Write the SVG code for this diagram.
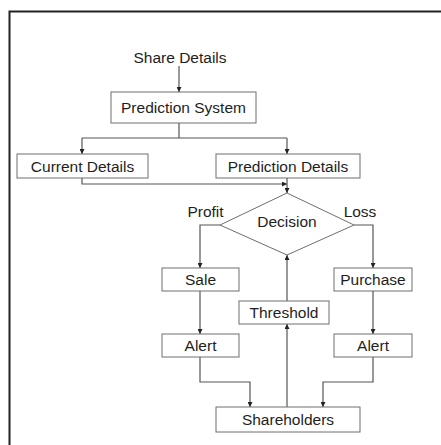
<svg xmlns="http://www.w3.org/2000/svg" width="441" height="445" viewBox="0 0 441 445">
<style>
.box{fill:#fff;stroke:#6e6e6e;stroke-width:1}
.ln{fill:none;stroke:#555;stroke-width:1.2}
text{font-family:"Liberation Sans",Arial,sans-serif;font-size:15.5px;fill:#1e1e1e;text-anchor:middle}
</style>
<defs>
<marker id="ah" viewBox="0 0 10 10" refX="10" refY="5" markerWidth="5" markerHeight="5" orient="auto" markerUnits="userSpaceOnUse">
<path d="M0,0 L10,5 L0,10 z" fill="#222"/>
</marker>
</defs>
<rect width="441" height="445" fill="#fff"/>
<path d="M9.5,445 V11.5 H441" fill="none" stroke="#222" stroke-width="2"/>
<g id="connectors">
<path class="ln" d="M179,66 V92" marker-end="url(#ah)"/>
<path class="ln" d="M179,123 V138 M82,138 H287"/>
<path class="ln" d="M82,138 V154" marker-end="url(#ah)"/>
<path class="ln" d="M287,138 V154" marker-end="url(#ah)"/>
<path class="ln" d="M82,178 V184 H287" marker-end="url(#ah)"/>
<path class="ln" d="M287,178 V193" marker-end="url(#ah)"/>
<path class="ln" d="M220,225 H200 V268" marker-end="url(#ah)"/>
<path class="ln" d="M354,225 H373 V268" marker-end="url(#ah)"/>
<path class="ln" d="M200,291 V334" marker-end="url(#ah)"/>
<path class="ln" d="M373,291 V334" marker-end="url(#ah)"/>
<path class="ln" d="M287,301 V255" marker-end="url(#ah)"/>
<path class="ln" d="M287,407 V324" marker-end="url(#ah)"/>
<path class="ln" d="M200,357 V382 H250 V407" marker-end="url(#ah)"/>
<path class="ln" d="M373,357 V382 H323 V407" marker-end="url(#ah)"/>
</g>
<g id="share-details"><text x="180" y="63">Share Details</text></g>
<g id="prediction-system"><rect class="box" x="111" y="92" width="145" height="31"/><text x="183.5" y="113">Prediction System</text></g>
<g id="current-details"><rect class="box" x="17" y="154" width="131" height="24"/><text x="82.5" y="172">Current Details</text></g>
<g id="prediction-details"><rect class="box" x="216" y="154" width="144" height="24"/><text x="288" y="172">Prediction Details</text></g>
<g id="decision"><path class="box" d="M287,193 L354,225 L287,255 L220,225 Z"/><text x="287" y="227">Decision</text></g>
<g id="profit"><text x="205.5" y="217">Profit</text></g>
<g id="loss"><text x="360" y="217">Loss</text></g>
<g id="sale"><rect class="box" x="162" y="268" width="77" height="23"/><text x="200.5" y="285">Sale</text></g>
<g id="purchase"><rect class="box" x="334" y="268" width="78" height="23"/><text x="373" y="285">Purchase</text></g>
<g id="threshold"><rect class="box" x="239" y="301" width="90" height="23"/><text x="284" y="318">Threshold</text></g>
<g id="alert-left"><rect class="box" x="162" y="334" width="77" height="23"/><text x="200.5" y="351">Alert</text></g>
<g id="alert-right"><rect class="box" x="334" y="334" width="78" height="23"/><text x="373" y="351">Alert</text></g>
<g id="shareholders"><rect class="box" x="216" y="407" width="144" height="25"/><text x="288" y="425">Shareholders</text></g>
</svg>
